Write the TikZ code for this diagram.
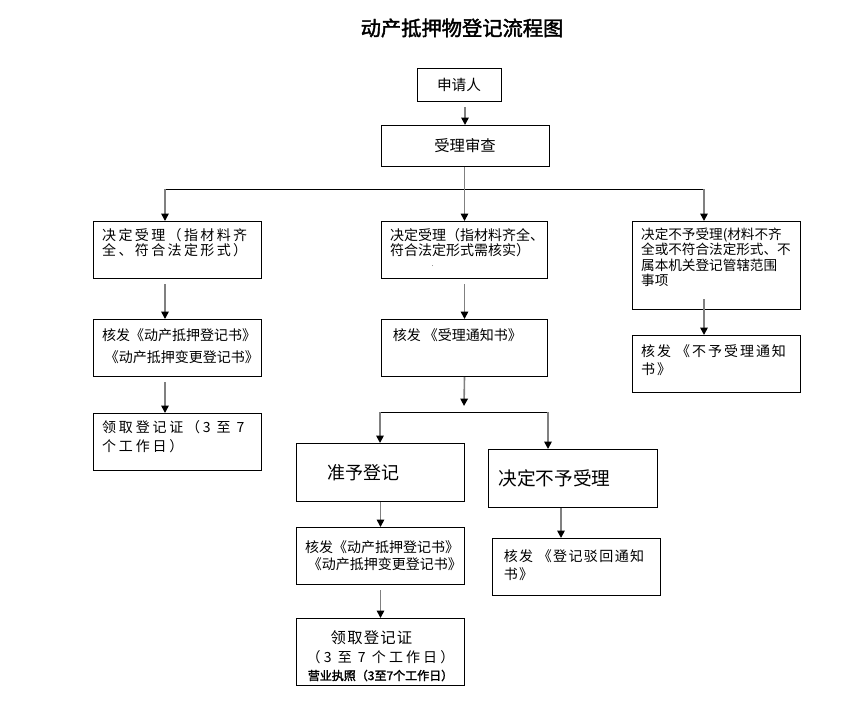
\documentclass[tikz,border=0pt]{standalone}
\usepackage{fontspec}
\setmainfont{Noto Sans CJK SC}[AutoFakeBold=2]
\usetikzlibrary{arrows.meta}

\newcommand{\stagetext}[3]{\parbox[t][\dimexpr0.75pt*#2-10pt\relax][t]{\dimexpr0.75pt*#1-13pt\relax}{\raggedright #3}}

\begin{document}
\begin{tikzpicture}[x=0.75pt, y=-0.75pt,
		stage/.style={draw, line width=0.75pt, anchor=north west, inner xsep=6.5pt, inner ysep=5pt, font=\fontsize{10.5}{11.25}\selectfont},
		flow/.style={draw=gray, line width=1.2pt, -{Triangle[width=5.5pt, length=5.5pt, color=black]}},
		branch/.style={draw=black, line width=0.75pt},
		gap/.style={shorten <=4pt}]
		\useasboundingbox[fill=white] (0,0) rectangle (841,710);
	
		\node[font=\fontsize{15.2}{18}\selectfont\bfseries] (title) at (462,28) {动产抵押物登记流程图};
	
		\node[stage, anchor=center, minimum width=63pt, minimum height=24pt, inner sep=0pt, font=\fontsize{11}{12}\selectfont] (apply) at (459,85) {申请人};
		\node[stage, anchor=center, minimum width=126pt, minimum height=30.75pt, inner sep=0pt, font=\fontsize{11.5}{12}\selectfont] (review) at (465,146) {受理审查};
	
		\node[stage] (accL) at (93,221) {\stagetext{168}{57}{\addfontfeature{LetterSpace=17}决定受理（指材料齐\\全、符合法定形式）}};
		\node[stage, font=\fontsize{10.5}{16.5}\selectfont] (issueL) at (93,319) {\stagetext{168}{57}{\vspace*{1.5pt}核发《动产抵押登记书》\\\hspace*{2pt}《动产抵押变更登记书》}};
		\node[stage, font=\fontsize{10.5}{14.25}\selectfont] (certL) at (93,413) {\stagetext{168}{57}{\addfontfeature{LetterSpace=20}领取登记证（3 至 7\\个工作日）}};
	
		\node[stage] (accM) at (381,221) {\stagetext{166}{57}{决定受理（指材料齐全、\\符合法定形式需核实）\\[-3pt]\hspace*{31pt}{\tiny .}}};
		\node[stage] (noticeM) at (381,319) {\stagetext{166}{57}{\vspace*{1.5pt}\hspace*{2pt}核发 《受理通知书》}};
	
		\node[stage, font=\fontsize{10.2}{11.4}\selectfont] (rejR) at (632,221) {\stagetext{168}{88}{决定不予受理(材料不齐\\全或不符合法定形式、不\\属本机关登记管辖范围\\事项}};
		\node[stage, font=\fontsize{10.5}{13.5}\selectfont] (rejNoticeR) at (632,335) {\stagetext{168}{57}{\vspace*{1.5pt}\addfontfeature{LetterSpace=14}核发 《不予受理通知\\书》}};
	
		\node[stage, text width=113pt, minimum height=43.5pt, align=left, font=\fontsize{13.5}{15}\selectfont] (grant) at (296,443) {\hspace*{17pt}准予登记};
		\node[stage, text width=113.75pt, minimum height=43.5pt, align=left, font=\fontsize{14}{15}\selectfont] (deny) at (488,449) {\hspace*{1pt}决定不予受理};
	
		\node[stage, font=\fontsize{10.5}{12.75}\selectfont] (issueG) at (296,527) {\stagetext{168}{57}{\vspace*{4.5pt}核发《动产抵押登记书》\\\hspace*{2pt}《动产抵押变更登记书》}};
		\node[stage, font=\fontsize{10.5}{13.5}\selectfont] (denyNotice) at (492,538) {\stagetext{168}{57}{\vspace*{3pt}\addfontfeature{LetterSpace=10}\hspace*{2pt}核发 《登记驳回通知\\\hspace*{2pt}书》}};
		\node[stage, font=\fontsize{10.5}{14.5}\selectfont] (certG) at (296,618) {\stagetext{168}{67}{\centering\vspace*{4pt}{\fontsize{11.5}{14}\addfontfeature{LetterSpace=8}领取登记证}\rule{13.5pt}{0pt}\\{\addfontfeature{LetterSpace=22}（3 至 7 个工作日）}\\[-1.5pt]{\fontsize{9}{10}\selectfont\bfseries 营业执照（3至7个工作日）}}};
	
		\coordinate (hubL) at (165,189);
		\coordinate (hubR) at (704,189);
		\coordinate (fork) at (464,406);
		\coordinate (forkL) at (380,412);
		\coordinate (forkR) at (548,412);
	
		\draw[branch] (hubL) -- (hubR);
		\draw[branch] (forkL) -- (forkR);
	
		\begin{scope}[flow]
			\draw[gap] (apply.south -| review.north) -- (review.north);
			\draw (review.south -| accM.north) -- (accM.north);
			\draw (hubL) -- (hubL |- accL.north);
			\draw (hubR) -- (hubR |- rejR.north);
			\draw[gap] (hubL |- accL.south) -- (hubL |- issueL.north);
			\draw[gap] (hubL |- issueL.south) -- (hubL |- certL.north);
			\draw[gap] (accM.south) -- (noticeM.north);
			\draw (noticeM.south) -- (fork);
			\draw[shorten <=-8pt] (hubR |- rejR.south) -- (hubR |- rejNoticeR.north);
			\draw (forkL) -- (forkL |- grant.north);
			\draw (forkR) -- (forkR |- deny.north);
			\draw (grant.south) -- (grant.south |- issueG.north);
			\draw[gap] (issueG.south) -- (issueG.south |- certG.north);
			\draw ([xshift=-9pt]deny.south) -- ([xshift=-9pt]deny.south |- denyNotice.north);
		\end{scope}
	\end{tikzpicture}
\end{document}
